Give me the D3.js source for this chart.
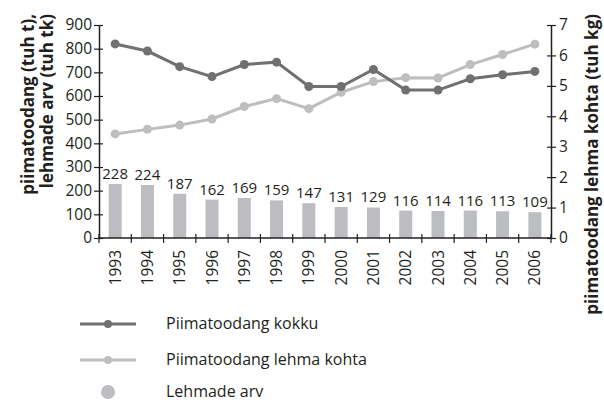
<!DOCTYPE html>
<html><head><meta charset="utf-8">
<script src="https://cdn.jsdelivr.net/npm/d3@7"></script>
<style>
body{margin:0;background:#fff;}
text{font-family:"Open Sans","Noto Sans",sans-serif;}
</style></head>
<body><svg id="c" width="604" height="400"></svg>
<script>
const years = ["1993","1994","1995","1996","1997","1998","1999","2000","2001","2002","2003","2004","2005","2006"];
const kokku = [820,790,724,682,733,743,640,640,712,625,625,673,690,704];
const lehmaKohta = [3.42,3.57,3.71,3.91,4.32,4.58,4.25,4.79,5.14,5.27,5.26,5.70,6.03,6.37];
const lehmadeArv = [228,224,187,162,169,159,147,131,129,116,114,116,113,109];
const leftTicks = [0,100,200,300,400,500,600,700,800,900];
const rightTicks = [0,1,2,3,4,5,6,7];
const legendLabels = ["Piimatoodang kokku","Piimatoodang lehma kohta","Lehmade arv"];

const dark = "#6f7072", light = "#bdbec0", barC = "#bcbdc0", ink = "#231f20";
const svg = d3.select("#c");
const L = 99, R = 551, T = 25, B = 238;
const x = d3.scaleBand().domain(years).range([L, R]);
const yL = d3.scaleLinear().domain([0, 900]).range([B, T]);
const yR = d3.scaleLinear().domain([0, 7]).range([B, T]);
const FS = 15.5;

// bars
svg.selectAll("rect.bar").data(lehmadeArv).enter().append("rect")
  .attr("x", (d,i) => x(years[i]) + x.bandwidth()/2 - 6.5)
  .attr("width", 13)
  .attr("y", d => yL(d))
  .attr("height", d => B - yL(d))
  .attr("fill", barC);
svg.selectAll("text.bl").data(lehmadeArv).enter().append("text")
  .attr("x", (d,i) => x(years[i]) + x.bandwidth()/2)
  .attr("y", d => yL(d) - 5)
  .attr("text-anchor", "middle")
  .attr("font-size", 15)
  .attr("fill", ink)
  .text(d => d);

// axes
const axL = svg.append("g").attr("transform", `translate(${L},0)`)
  .call(d3.axisLeft(yL).tickValues(leftTicks).tickSize(5).tickSizeOuter(0).tickFormat(d3.format("d")));
const axR = svg.append("g").attr("transform", `translate(${R},0)`)
  .call(d3.axisRight(yR).tickValues(rightTicks).tickSize(5).tickSizeOuter(0).tickFormat(d3.format("d")));
const xTickPos = years.map(y => x(y)).concat([R]);
const axX = svg.append("g").attr("transform", `translate(0,${B})`);
axX.append("line").attr("x1", L).attr("x2", R).attr("stroke", ink).attr("stroke-width", 1.5);
axX.selectAll("line.t").data(xTickPos).enter().append("line")
  .attr("x1", d => d).attr("x2", d => d).attr("y1", -4).attr("y2", 5)
  .attr("stroke", ink).attr("stroke-width", 1.2);
axX.selectAll("text").data(years).enter().append("text")
  .attr("transform", d => `translate(${x(d)+x.bandwidth()/2+5.5},12) rotate(-90)`)
  .attr("text-anchor", "end")
  .attr("font-size", FS)
  .attr("fill", ink)
  .text(d => d);
[axL, axR].forEach(a => {
  a.selectAll("path").attr("stroke", ink).attr("stroke-width", 1.5);
  a.selectAll("line").attr("stroke", ink).attr("stroke-width", 1.2);
  a.selectAll("text").attr("font-size", FS).attr("fill", ink)
    .attr("font-family", '"Open Sans","Noto Sans",sans-serif');
});
axL.selectAll(".tick line").attr("x2", -5).attr("x1", 4);
axL.selectAll("text").attr("x", -7);
axR.selectAll(".tick line").attr("x1", -4).attr("x2", 5);
axR.selectAll("text").attr("x", 8);

// lines
const cx = i => x(years[i]) + x.bandwidth()/2;
const lineL = d3.line().x((d,i) => cx(i)).y(d => yL(d));
const lineR = d3.line().x((d,i) => cx(i)).y(d => yR(d));
svg.append("path").datum(lehmaKohta).attr("d", lineR).attr("fill","none").attr("stroke", light).attr("stroke-width", 3);
svg.selectAll("circle.l").data(lehmaKohta).enter().append("circle")
  .attr("cx", (d,i) => cx(i)).attr("cy", d => yR(d)).attr("r", 4.5).attr("fill", light);
svg.append("path").datum(kokku).attr("d", lineL).attr("fill","none").attr("stroke", dark).attr("stroke-width", 3);
svg.selectAll("circle.k").data(kokku).enter().append("circle")
  .attr("cx", (d,i) => cx(i)).attr("cy", d => yL(d)).attr("r", 4.5).attr("fill", dark);

// axis titles
svg.append("text").attr("transform", "translate(34,14) rotate(-90)")
  .attr("text-anchor", "end").attr("font-size", 17).attr("font-weight", "bold").attr("fill", ink)
  .text("piimatoodang (tuh t),");
svg.append("text").attr("transform", "translate(53,14) rotate(-90)")
  .attr("text-anchor", "end").attr("font-size", 17).attr("font-weight", "bold").attr("fill", ink)
  .text("lehmade arv (tuh tk)");
svg.append("text").attr("transform", "translate(598,14) rotate(-90)")
  .attr("text-anchor", "end").attr("font-size", 17).attr("font-weight", "bold").attr("fill", ink)
  .text("piimatoodang lehma kohta (tuh kg)");

// legend
const lg = svg.append("g");
const ly = [324, 360, 392];
[dark, light].forEach((c, i) => {
  lg.append("line").attr("x1", 80).attr("x2", 136).attr("y1", ly[i]).attr("y2", ly[i]).attr("stroke", c).attr("stroke-width", 3);
  lg.append("circle").attr("cx", 108).attr("cy", ly[i]).attr("r", 4).attr("fill", c);
});
lg.append("circle").attr("cx", 108).attr("cy", ly[2]).attr("r", 7).attr("fill", barC);
legendLabels.forEach((t, i) => {
  lg.append("text").attr("x", 166).attr("y", ly[i] + 4.5).attr("font-size", 16).attr("fill", ink).text(t);
});
</script></body></html>
